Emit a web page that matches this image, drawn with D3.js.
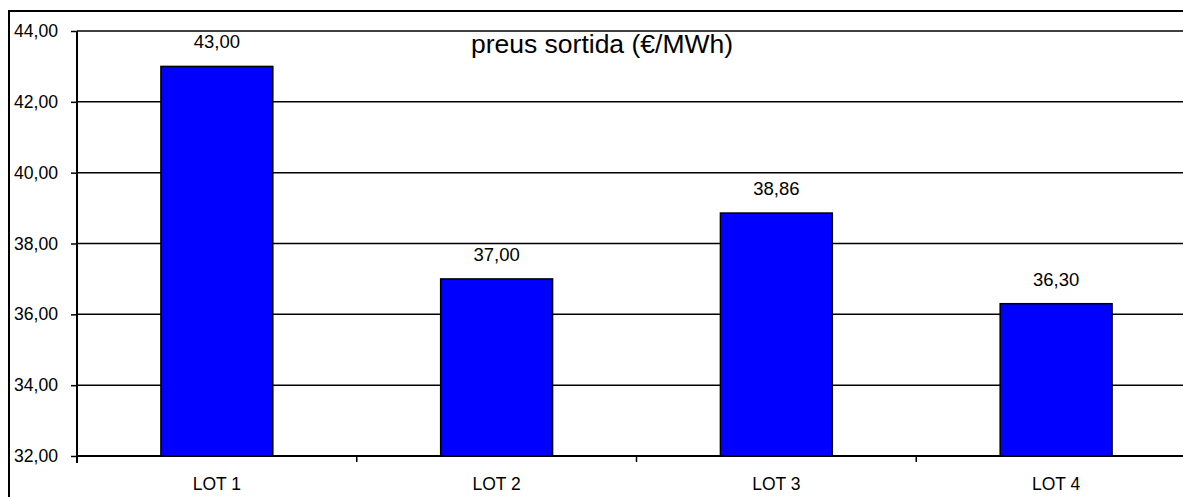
<!DOCTYPE html>
<html>
<head>
<meta charset="utf-8">
<script src="https://cdn.jsdelivr.net/npm/d3@7"></script>
<style>
  html, body { margin: 0; background: #fff; overflow: hidden; }
  svg { display: block; font-family: Arial, "Liberation Sans", sans-serif; }
</style>
</head>
<body>
<svg width="1250" height="497"></svg>
<script>
const lots = ['LOT 1', 'LOT 2', 'LOT 3', 'LOT 4'];
const prices = [43.00, 37.00, 38.86, 36.30];
const yTicks = [32, 34, 36, 38, 40, 42, 44];
const title = 'preus sortida (€/MWh)';

const data = lots.map((lot, i) => ({ lot, price: prices[i] }));

const svg = d3.select('svg');
const fmt = v => d3.format('.2f')(v).replace('.', ',');
const font = 'Arial, "Liberation Sans", sans-serif';

// plot area runs off the right edge, like the original capture
const plot = { left: 77, top: 31, right: 1196, bottom: 456 };

// outer chart frame (only left and top edges are inside the picture)
svg.append('path')
  .attr('d', 'M9,600V11H1400')
  .attr('fill', 'none')
  .attr('stroke', '#000')
  .attr('stroke-width', 2);

const xScale = d3.scaleBand()
  .domain(lots)
  .range([plot.left, plot.right])
  .paddingInner(0.6)
  .paddingOuter(0.3);

const yScale = d3.scaleLinear()
  .domain([32, 44])
  .range([plot.bottom, plot.top]);

// gridlines
svg.append('g')
  .selectAll('line').data(yTicks.slice(1))
  .enter().append('line')
    .attr('x1', plot.left).attr('x2', plot.right)
    .attr('y1', d => yScale(d)).attr('y2', d => yScale(d))
    .attr('stroke', '#000')
    .attr('stroke-width', 1.5);

// y axis
const yAxisG = svg.append('g')
  .attr('transform', `translate(${plot.left},0)`)
  .call(d3.axisLeft(yScale).tickValues(yTicks).tickFormat(fmt).tickSize(6).tickPadding(13));
yAxisG.select('.domain').attr('stroke-width', 2).attr('d', `M0,${plot.top}V${plot.bottom + 7}`);
yAxisG.selectAll('.tick line').attr('stroke-width', 1.5);
yAxisG.selectAll('text').attr('font-size', 17.6).attr('font-family', font).attr('fill', '#000');

// bars
svg.append('g')
  .selectAll('rect').data(data)
  .enter().append('rect')
    .attr('x', d => xScale(d.lot))
    .attr('y', d => yScale(d.price))
    .attr('width', xScale.bandwidth())
    .attr('height', d => plot.bottom - yScale(d.price))
    .attr('fill', '#0000ff')
    .attr('stroke', '#000')
    .attr('stroke-width', 1.5);

// value labels
svg.append('g')
  .selectAll('text').data(data)
  .enter().append('text')
    .attr('x', d => xScale(d.lot) + xScale.bandwidth() / 2)
    .attr('y', d => yScale(d.price) - 18)
    .attr('text-anchor', 'middle')
    .attr('font-size', 18.5)
    .text(d => fmt(d.price));

// x axis
const xAxisG = svg.append('g')
  .attr('transform', `translate(0,${plot.bottom})`)
  .call(d3.axisBottom(xScale).tickSize(0).tickPadding(22));
xAxisG.select('.domain').attr('stroke-width', 2).attr('d', `M${plot.left},0H${plot.right}`);
xAxisG.selectAll('text').attr('font-size', 17.5).attr('font-family', font).attr('fill', '#000');

// category boundary ticks
const bounds = lots.slice(1).map(l => xScale(l) - xScale.step() * xScale.paddingInner() / 2);
xAxisG.selectAll('.bound').data(bounds)
  .enter().append('line')
    .attr('class', 'bound')
    .attr('x1', d => d).attr('x2', d => d)
    .attr('y1', 0).attr('y2', 6)
    .attr('stroke', '#000')
    .attr('stroke-width', 1.5);

// title
svg.append('text')
  .attr('x', 602)
  .attr('y', 53)
  .attr('text-anchor', 'middle')
  .attr('font-size', 26.5)
  .text(title);
</script>
</body>
</html>
